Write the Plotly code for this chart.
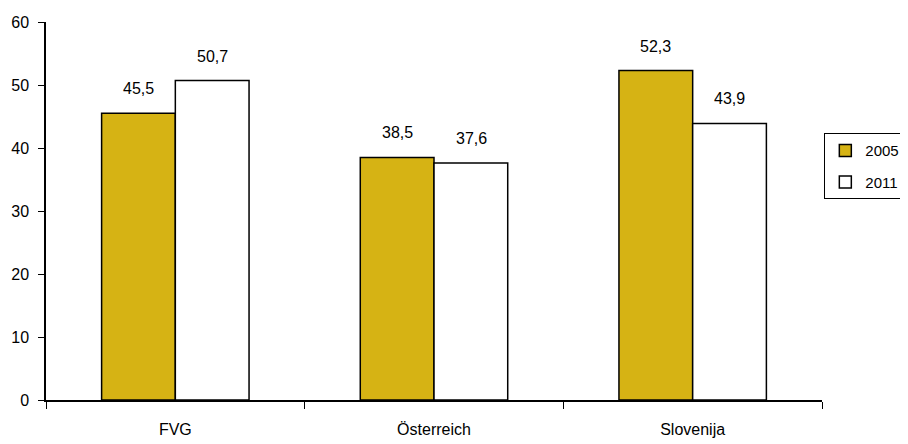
import plotly.graph_objects as go

categories = ["FVG", "Österreich", "Slovenija"]
v2005 = [45.5, 38.5, 52.3]
v2011 = [50.7, 37.6, 43.9]
labels2005 = ["45,5", "38,5", "52,3"]
labels2011 = ["50,7", "37,6", "43,9"]

FONT = "Liberation Sans Narrow, Arial Narrow, Liberation Sans, sans-serif"

fig = go.Figure()
fig.add_bar(name="2005", x=categories, y=v2005, legendgroup="a",
            marker=dict(color="#D6B314", line=dict(color="black", width=1.5)))
fig.add_bar(name="2011", x=categories, y=v2011, legendgroup="b",
            marker=dict(color="white", line=dict(color="black", width=1.5)))

for cat, val, lab in zip(categories, v2005, labels2005):
    fig.add_annotation(x=cat, y=val, text=lab, showarrow=False, xshift=-37,
                       yanchor="bottom", yshift=14)
for cat, val, lab in zip(categories, v2011, labels2011):
    fig.add_annotation(x=cat, y=val, text=lab, showarrow=False, xshift=37,
                       yanchor="bottom", yshift=14)

# page body has an 8px default margin, so the figure is 900x436
fig.update_layout(
    width=900, height=436,
    margin=dict(l=38, r=86, t=14, b=44, autoexpand=False),
    paper_bgcolor="white", plot_bgcolor="white",
    barmode="group", bargap=0.43, bargroupgap=0,
    font=dict(family=FONT, size=16, color="black"),
    separators=",.",
    showlegend=True,
    legend=dict(x=1.003, y=0.706, xanchor="left", yanchor="top",
                bordercolor="black", borderwidth=1,
                font=dict(family=FONT, size=15),
                traceorder="grouped", tracegroupgap=9,
                itemwidth=30),
)
fig.update_xaxes(showline=True, linecolor="black", linewidth=1.5,
                 ticks="outside", ticklen=7, tickcolor="black",
                 tickson="boundaries", showgrid=False, ticklabelstandoff=14)
fig.update_yaxes(range=[0, 60], dtick=10, showline=True, linecolor="black",
                 linewidth=1.5, ticks="outside", ticklen=6, tickcolor="black",
                 showgrid=False, zeroline=False, ticklabelstandoff=6)

fig.write_html("out.html")
